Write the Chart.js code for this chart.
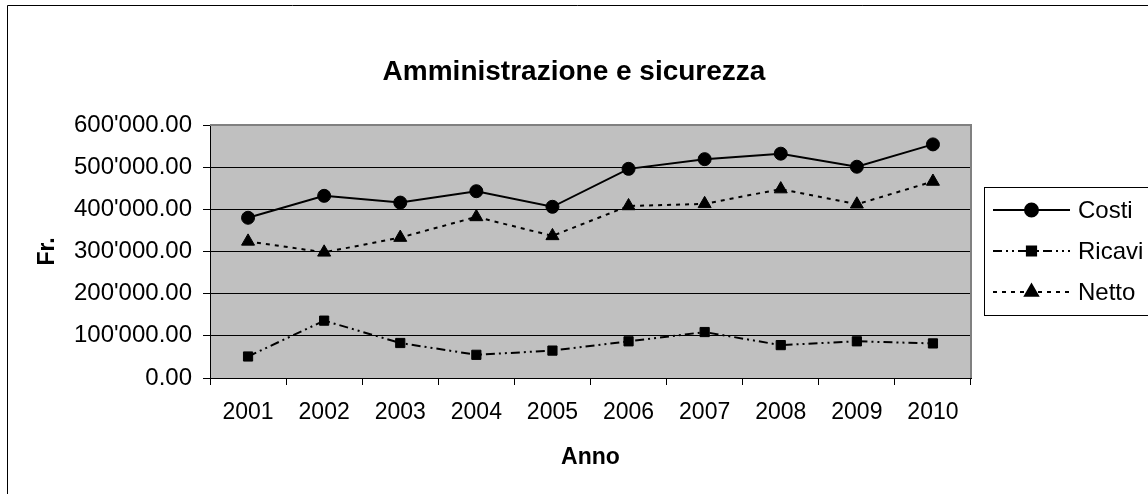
<!DOCTYPE html>
<html>
<head>
<meta charset="utf-8">
<script src="https://cdn.jsdelivr.net/npm/chart.js@4/dist/chart.umd.min.js"></script>
<style>
  html, body { margin: 0; padding: 0; background: #fff; }
  canvas { display: block; }
</style>
</head>
<body>
<canvas id="c" width="1148" height="494"></canvas>
<script>
const titleText = 'Amministrazione e sicurezza';
const xTitle = 'Anno';
const yTitle = 'Fr.';
const categories = ['2001', '2002', '2003', '2004', '2005', '2006', '2007', '2008', '2009', '2010'];
const costi  = [380000, 432000, 416000, 443000, 406000, 496000, 519000, 532000, 501000, 554000];
const ricavi = [51000, 136000, 83000, 55000, 65000, 87000, 109000, 78000, 87000, 82000];
const netto  = [324000, 298000, 333000, 382000, 337000, 408000, 413000, 448000, 412000, 466000];
const seriesNames = ['Costi', 'Ricavi', 'Netto'];
const yMin = 0, yMax = 600000, yStep = 100000;

const FONT = '"Liberation Sans", Arial, sans-serif';

function fmt(v) {
  const s = Math.abs(v).toFixed(2);
  const [i, d] = s.split('.');
  const withSep = i.replace(/\B(?=(\d{3})+(?!\d))/g, "'");
  return (v < 0 ? '-' : '') + withSep + '.' + d;
}

const framePlugin = {
  id: 'frame',
  beforeDraw(chart) {
    const { ctx, chartArea: a } = chart;
    ctx.save();
    ctx.fillStyle = '#ffffff';
    ctx.fillRect(0, 0, chart.width, chart.height);
    ctx.fillStyle = '#c0c0c0';
    ctx.fillRect(a.left, a.top, a.right - a.left, a.bottom - a.top);
    ctx.strokeStyle = '#000';
    ctx.lineWidth = 1;
    ctx.beginPath();
    ctx.moveTo(7.5, chart.height);
    ctx.lineTo(7.5, 5.5);
    ctx.lineTo(chart.width, 5.5);
    ctx.stroke();
    ctx.restore();
  },
  beforeDatasetsDraw(chart) {
    const { ctx, chartArea: a } = chart;
    ctx.save();
    ctx.strokeStyle = '#808080';
    ctx.lineWidth = 2;
    ctx.beginPath();
    ctx.moveTo(a.left, a.top);
    ctx.lineTo(a.right, a.top);
    ctx.lineTo(a.right, a.bottom);
    ctx.stroke();
    ctx.restore();
  },
  afterDraw(chart) {
    const { ctx } = chart;
    const bx = 984.5, by = 187.5, bw = 200, bh = 128;
    ctx.save();
    ctx.fillStyle = '#fff';
    ctx.fillRect(bx, by, bw, bh);
    ctx.strokeStyle = '#000';
    ctx.lineWidth = 1;
    ctx.strokeRect(bx, by, bw, bh);
    const rows = [210, 251, 292];
    chart.data.datasets.forEach((ds, i) => {
      const y = rows[i];
      ctx.save();
      ctx.strokeStyle = ds.borderColor;
      ctx.lineWidth = ds.borderWidth;
      ctx.setLineDash(ds.borderDash || []);
      ctx.beginPath();
      ctx.moveTo(993, y);
      ctx.lineTo(1070, y);
      ctx.stroke();
      ctx.setLineDash([]);
      ctx.fillStyle = ds.pointBackgroundColor;
      ctx.strokeStyle = ds.pointBorderColor;
      Chart.helpers.drawPoint(ctx, {
        pointStyle: ds.pointStyle, radius: ds.pointRadius, rotation: 0, borderWidth: 1
      }, 1031.5, y);
      ctx.restore();
      ctx.fillStyle = '#000';
      ctx.font = '24px ' + FONT;
      ctx.textAlign = 'left';
      ctx.textBaseline = 'middle';
      ctx.fillText(ds.label, 1078, y + 1);
    });
    ctx.restore();
  }
};

new Chart(document.getElementById('c'), {
  type: 'line',
  data: {
    labels: categories,
    datasets: [
      {
        label: seriesNames[0], data: costi,
        borderColor: '#000', borderWidth: 2, borderDash: [],
        pointStyle: 'circle', pointRadius: 6.5, pointHoverRadius: 6.5,
        pointBackgroundColor: '#000', pointBorderColor: '#000', pointBorderWidth: 1,
        tension: 0, yAxisID: 'y'
      },
      {
        label: seriesNames[1], data: ricavi,
        borderColor: '#000', borderWidth: 2, borderDash: [9, 4, 2, 4, 2, 4],
        pointStyle: 'rect', pointRadius: 6.5, pointHoverRadius: 6.5,
        pointBackgroundColor: '#000', pointBorderColor: '#000', pointBorderWidth: 1,
        tension: 0, yAxisID: 'y'
      },
      {
        label: seriesNames[2], data: netto,
        borderColor: '#000', borderWidth: 2, borderDash: [4, 5],
        pointStyle: 'triangle', pointRadius: 7.5, pointHoverRadius: 7.5,
        pointBackgroundColor: '#000', pointBorderColor: '#000', pointBorderWidth: 1,
        tension: 0, yAxisID: 'y'
      }
    ]
  },
  options: {
    responsive: false,
    animation: false,
    devicePixelRatio: 1,
    layout: { padding: { left: 0, right: 0, top: 0, bottom: 0 } },
    plugins: {
      legend: { display: false },
      tooltip: { enabled: false },
      title: {
        display: true, text: titleText, color: '#000',
        font: { family: FONT, size: 28, weight: 'bold', lineHeight: 1.2 },
        padding: { top: 55, bottom: 36.4 }
      }
    },
    scales: {
      x: {
        type: 'category',
        offset: true,
        afterFit(s) { s.height = 116; },
        grid: { display: true, drawOnChartArea: false, drawTicks: true, tickLength: 7, color: '#000', offset: true },
        border: { display: true, color: '#000', width: 1 },
        ticks: { color: '#000', font: { family: FONT, size: 23 }, padding: 14, maxRotation: 0, autoSkip: false },
        title: { display: true, text: xTitle, color: '#000', font: { family: FONT, size: 23, weight: 'bold', lineHeight: 1.2 }, padding: { top: 0, bottom: 23 } }
      },
      y: {
        type: 'linear', position: 'left',
        min: yMin, max: yMax,
        afterFit(s) { s.width = 210; },
        grid: {
          color: (c) => (c.tick && c.tick.value === yMax ? 'rgba(0,0,0,0)' : '#000'),
          tickColor: '#000', lineWidth: 1, tickLength: 7, drawTicks: true
        },
        border: { display: true, color: '#000', width: 1 },
        ticks: { stepSize: yStep, color: '#000', font: { family: FONT, size: 24 }, padding: 11, callback: (v) => fmt(v) },
        title: { display: true, text: yTitle, color: '#000', font: { family: FONT, size: 23, weight: 'bold', lineHeight: 1.2 }, padding: { top: 34, bottom: 0 } }
      },
      y2: {
        type: 'linear', position: 'right',
        afterFit(s) { s.width = 177; },
        grid: { display: false, drawOnChartArea: false },
        border: { display: false },
        ticks: { display: false }
      }
    }
  },
  plugins: [framePlugin]
});
</script>
</body>
</html>
